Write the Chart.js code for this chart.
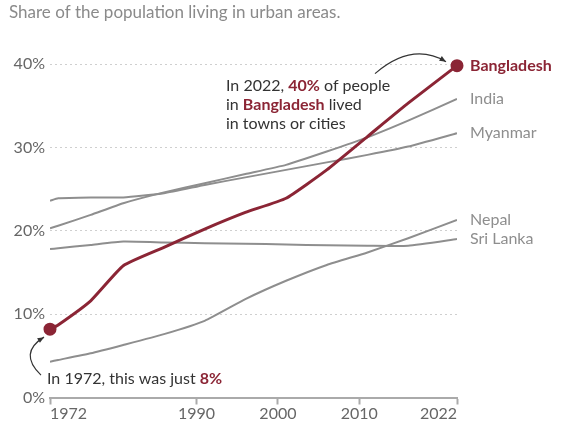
<!DOCTYPE html>
<html>
<head>
<meta charset="utf-8">
<script src="https://cdn.jsdelivr.net/npm/chart.js@4.4.1/dist/chart.umd.min.js"></script>
<style>
    body { margin: 0; background: #fff; }
    canvas { display: block; }
</style>
</head>
<body>
<canvas id="chart" width="566" height="438"></canvas>
<script>
// values, % of population living in urban areas
var years = [1972, 1973, 1977, 1981, 1986, 1991, 1996, 2001, 2006, 2011, 2016, 2022];
var bangladesh = [8.2, 8.7, 11.6, 15.8, 18.0, 20.2, 22.2, 23.9, 27.3, 31.3, 35.3, 39.8];
var india = [20.3, 20.6, 21.9, 23.3, 24.6, 25.7, 26.8, 27.9, 29.5, 31.2, 33.2, 35.8];
var myanmar = [23.6, 23.9, 24.0, 24.0, 24.5, 25.5, 26.4, 27.3, 28.2, 29.1, 30.1, 31.7];
var nepal = [4.3, 4.5, 5.3, 6.3, 7.6, 9.2, 11.8, 14.0, 15.9, 17.4, 19.1, 21.3];
var sriLanka = [17.8, 17.9, 18.3, 18.7, 18.6, 18.5, 18.45, 18.35, 18.25, 18.2, 18.2, 19.0];
var xTicks = [1972, 1990, 2000, 2010, 2022];

var RED = '#8b2535';
var GREY = '#8e8e8e';
var TEXT = '#333333';
var FONT = 'Lato';

Chart.defaults.font.family = FONT;

function points(values) {
    return years.map((yr, i) => ({ x: yr, y: values[i] }));
}

function greySeries(label, values) {
    return {
        label: label,
        data: points(values),
        borderColor: GREY,
        borderWidth: 2,
        pointRadius: 0,
        tension: 0.15,
        borderJoinStyle: 'round'
    };
}

var datasets = [
    {
        label: 'Bangladesh',
        data: points(bangladesh),
        borderColor: RED,
        backgroundColor: RED,
        borderWidth: 3,
        tension: 0.15,
        borderJoinStyle: 'round',
        pointRadius: ctx => (ctx.dataIndex === 0 || ctx.dataIndex === years.length - 1) ? 5 : 0,
        pointHoverRadius: 0,
        clip: false
    },
    greySeries('India', india),
    greySeries('Myanmar', myanmar),
    greySeries('Nepal', nepal),
    greySeries('Sri Lanka', sriLanka)
];

// draws a line of text made of [text, colour, bold] pieces
function richText(ctx, parts, x, y) {
    parts.forEach(p => {
        ctx.font = (p[2] ? 'bold ' : '') + '16px ' + FONT;
        ctx.fillStyle = p[1];
        ctx.fillText(p[0], x, y);
        x += ctx.measureText(p[0]).width;
    });
}

function arrow(ctx, sx, sy, cx, cy, ex, ey) {
    ctx.save();
    ctx.strokeStyle = TEXT;
    ctx.fillStyle = TEXT;
    ctx.lineWidth = 1.2;
    ctx.beginPath();
    ctx.moveTo(sx, sy);
    ctx.quadraticCurveTo(cx, cy, ex, ey);
    ctx.stroke();
    var a = Math.atan2(ey - cy, ex - cx);
    var len = 7;
    ctx.beginPath();
    ctx.moveTo(ex, ey);
    ctx.lineTo(ex - len * Math.cos(a - 0.4), ey - len * Math.sin(a - 0.4));
    ctx.lineTo(ex - len * Math.cos(a + 0.4), ey - len * Math.sin(a + 0.4));
    ctx.closePath();
    ctx.fill();
    ctx.restore();
}

var labelsPlugin = {
    id: 'labels',
    afterDatasetsDraw(chart) {
        var ctx = chart.ctx;
        var xs = chart.scales.x;
        var ys = chart.scales.y;
        var area = chart.chartArea;
        ctx.save();
        ctx.textBaseline = 'middle';
        ctx.textAlign = 'left';

        // title
        ctx.font = '17px ' + FONT;
        ctx.fillStyle = '#8a8a8a';
        ctx.fillText('Share of the population living in urban areas.', 9, 13);

        // series names at the line ends
        chart.data.datasets.forEach((ds, i) => {
            var last = ds.data[ds.data.length - 1];
            var isMain = i === 0;
            ctx.font = (isMain ? 'bold ' : '') + '16px ' + FONT;
            ctx.fillStyle = isMain ? RED : GREY;
            ctx.fillText(ds.label, area.right + 13, ys.getPixelForValue(last.y));
        });

        // annotations
        var endX = xs.getPixelForValue(years[years.length - 1]);
        var endY = ys.getPixelForValue(bangladesh[bangladesh.length - 1]);
        richText(ctx, [['In 2022, ', TEXT], ['40%', RED, true], [' of people', TEXT]], 226, endY + 20);
        richText(ctx, [['in ', TEXT], ['Bangladesh', RED, true], [' lived', TEXT]], 226, endY + 39);
        richText(ctx, [['in towns or cities', TEXT]], 226, endY + 58);
        arrow(ctx, endX - 82, endY + 8, endX - 45, endY - 24, endX - 11, endY - 4);

        var startX = xs.getPixelForValue(years[0]);
        var startY = ys.getPixelForValue(bangladesh[0]);
        richText(ctx, [['In 1972, this was just ', TEXT], ['8%', RED, true]], 47, startY + 50);
        arrow(ctx, startX - 9, startY + 46, startX - 32, startY + 24, startX - 6, startY + 8);

        ctx.restore();
    }
};

new Chart(document.getElementById('chart'), {
    type: 'line',
    data: { datasets },
    options: {
        responsive: false,
        animation: false,
        layout: {
            padding: { top: 64, right: 109, left: 0, bottom: 0 }
        },
        plugins: {
            legend: { display: false },
            tooltip: { enabled: false }
        },
        scales: {
            x: {
                type: 'linear',
                min: 1972,
                max: 2022,
                afterBuildTicks: scale => {
                    scale.ticks = xTicks.map(v => ({ value: v }));
                },
                afterFit: scale => { scale.height = 40.5; },
                ticks: {
                    align: 'inner',
                    color: '#666',
                    font: { size: 16 },
                    padding: 0,
                    callback: v => String(v)
                },
                grid: {
                    drawOnChartArea: false,
                    tickLength: 7,
                    tickWidth: 2,
                    tickColor: '#aaa'
                },
                border: { display: true, color: '#aaa', width: 2 }
            },
            y: {
                min: 0,
                max: 40,
                afterFit: scale => { scale.width = 50; },
                ticks: {
                    stepSize: 10,
                    color: '#666',
                    font: { size: 16 },
                    padding: 5,
                    callback: v => v + '%'
                },
                grid: {
                    drawTicks: false,
                    color: ctx => ctx.tick && ctx.tick.value === 0 ? 'rgba(0,0,0,0)' : '#cfcfcf',
                    lineWidth: 1
                },
                border: { display: false, dash: [2, 3] }
            }
        }
    },
    plugins: [labelsPlugin]
});
</script>
</body>
</html>
